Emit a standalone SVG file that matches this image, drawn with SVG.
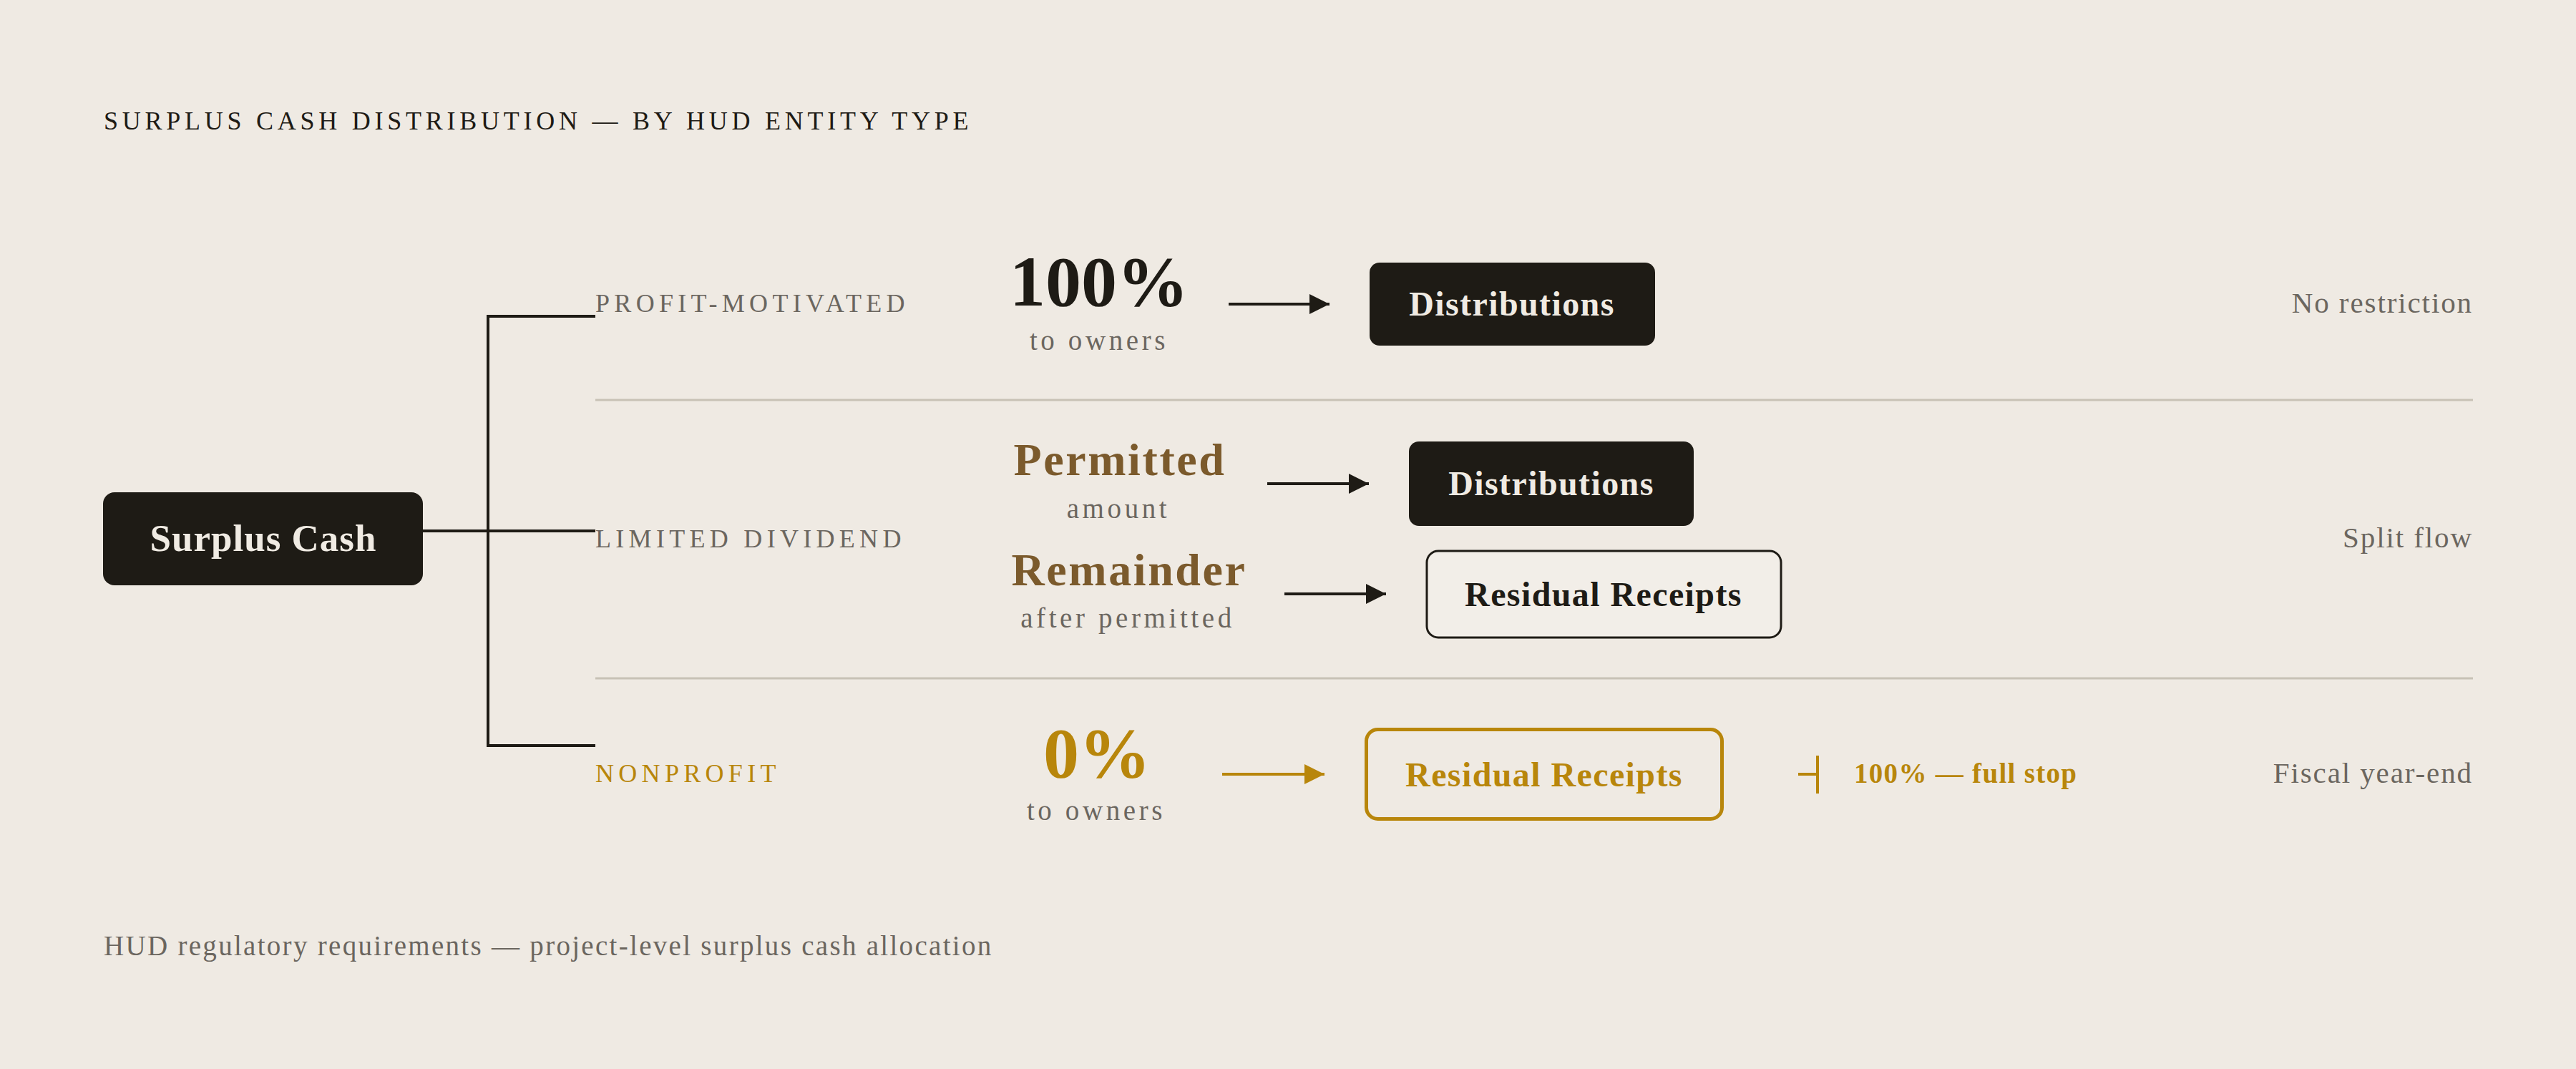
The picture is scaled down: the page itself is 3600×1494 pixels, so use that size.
<svg xmlns="http://www.w3.org/2000/svg" width="3600" height="1494" viewBox="0 0 3600 1494">
<defs>
<style>
text{font-family:"Liberation Serif","DejaVu Serif",serif;}
.title{font-size:36px;letter-spacing:5.75px;fill:#1e1b15;}
.cat{font-size:36px;letter-spacing:6.3px;fill:#6b665f;}
.catg{font-size:36px;letter-spacing:6.3px;fill:#b8860b;}
.big{font-size:100px;font-weight:bold;fill:#1e1b15;text-anchor:middle;}
.bigg{font-size:100px;font-weight:bold;fill:#b8860b;text-anchor:middle;}
.sub{font-size:39px;letter-spacing:4.6px;fill:#6b665f;text-anchor:middle;}
.mid{font-size:64px;font-weight:bold;fill:#7b5a2c;text-anchor:middle;letter-spacing:2.6px;}
.lbl{font-size:48px;font-weight:bold;text-anchor:middle;letter-spacing:1.4px;}
.note{font-size:41px;letter-spacing:1.9px;fill:#6b665f;text-anchor:end;}
.foot{font-size:39px;letter-spacing:2.3px;fill:#6b665f;}
.dark{fill:#1e1b15;}
.sep{stroke:#c8c2b6;stroke-width:3;fill:none;}
.conn{stroke:#1e1b15;stroke-width:4;fill:none;}
.arr{stroke:#1e1b15;stroke-width:4;fill:none;marker-end:url(#ah);}
.arrg{stroke:#b8860b;stroke-width:4;fill:none;marker-end:url(#ahg);}
</style>
<marker id="ah" markerUnits="userSpaceOnUse" markerWidth="30" markerHeight="30" refX="28" refY="14" orient="auto"><path d="M0,0 L28,14 L0,28 Z" fill="#1e1b15"/></marker>
<marker id="ahg" markerUnits="userSpaceOnUse" markerWidth="30" markerHeight="30" refX="28" refY="14" orient="auto"><path d="M0,0 L28,14 L0,28 Z" fill="#b8860b"/></marker>
</defs>
<rect width="3600" height="1494" fill="#efeae3"/>
<text class="title" x="145" y="181">SURPLUS CASH DISTRIBUTION — BY HUD ENTITY TYPE</text>

<g id="separators">
<line class="sep" x1="832" y1="559" x2="3456" y2="559"/>
<line class="sep" x1="832" y1="948" x2="3456" y2="948"/>
</g>

<g id="connectors">
<path class="conn" d="M591,742 H832"/>
<path class="conn" d="M832,442 H682 V1042 H832"/>
<line class="arr" x1="1717" y1="425" x2="1858" y2="425"/>
<line class="arr" x1="1771" y1="676" x2="1913" y2="676"/>
<line class="arr" x1="1795" y1="830" x2="1937" y2="830"/>
<line class="arrg" x1="1708" y1="1082" x2="1851" y2="1082"/>
<path d="M2513,1082 H2540 M2540,1056 V1109" stroke="#b8860b" stroke-width="4" fill="none"/>
</g>

<g id="surplus-cash">
<rect class="dark" x="144" y="688" width="447" height="130" rx="16"/>
<text class="lbl" x="368" y="770" fill="#f0ebe3" style="font-size:53px;letter-spacing:1px">Surplus Cash</text>
</g>

<g id="profit-motivated">
<text class="cat" x="832" y="436">PROFIT-MOTIVATED</text>
<text class="big" x="1536" y="427">100%</text>
<text class="sub" x="1536" y="489">to owners</text>
<text class="note" x="3456" y="437">No restriction</text>
</g>
<g id="distributions-1">
<rect class="dark" x="1914" y="367" width="399" height="116" rx="14"/>
<text class="lbl" x="2113" y="441" fill="#f0ebe3">Distributions</text>
</g>

<g id="limited-dividend">
<text class="cat" x="832" y="765">LIMITED DIVIDEND</text>
<text class="mid" x="1565" y="664">Permitted</text>
<text class="sub" x="1563" y="724">amount</text>
<text class="mid" x="1578" y="818">Remainder</text>
<text class="sub" x="1576" y="877">after permitted</text>
<text class="note" x="3456" y="765">Split flow</text>
</g>
<g id="distributions-2">
<rect class="dark" x="1969" y="617" width="398" height="118" rx="14"/>
<text class="lbl" x="2168" y="692" fill="#f0ebe3">Distributions</text>
</g>
<g id="residual-receipts-1">
<rect x="1994" y="770" width="495" height="121" rx="16" fill="#f2eee8" stroke="#1e1b15" stroke-width="3"/>
<text class="lbl" x="2241" y="847" fill="#1e1b15">Residual Receipts</text>
</g>

<g id="nonprofit">
<text class="catg" x="832" y="1093">NONPROFIT</text>
<text class="bigg" x="1533" y="1086">0%</text>
<text class="sub" x="1532" y="1146">to owners</text>
<text x="2591" y="1094" style="font-size:39px;font-weight:bold;letter-spacing:1.3px;fill:#b8860b">100% — full stop</text>
<text class="note" x="3456" y="1094">Fiscal year-end</text>
</g>
<g id="residual-receipts-2">
<rect x="1909.5" y="1019.5" width="497" height="125" rx="16" fill="none" stroke="#b8860b" stroke-width="5"/>
<text class="lbl" x="2158" y="1099" fill="#b8860b">Residual Receipts</text>
</g>

<text class="foot" x="145" y="1335">HUD regulatory requirements — project-level surplus cash allocation</text>
</svg>
